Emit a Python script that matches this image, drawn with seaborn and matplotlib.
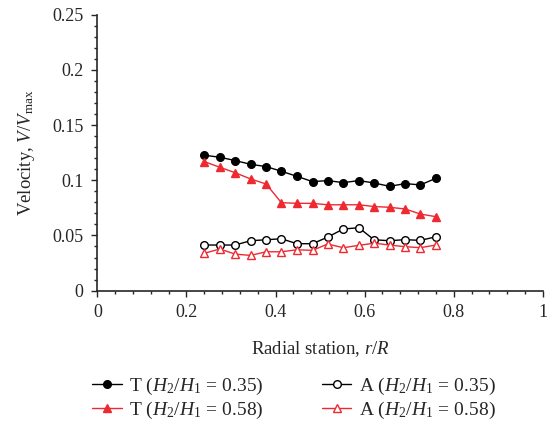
import matplotlib
matplotlib.use("Agg")
import matplotlib.pyplot as plt
import pandas as pd
import seaborn as sns
from matplotlib.ticker import MultipleLocator, FuncFormatter

# radial stations r/R
r_over_R = [0.24, 0.275, 0.309, 0.344, 0.379, 0.413, 0.448, 0.483,
            0.517, 0.552, 0.587, 0.621, 0.656, 0.691, 0.725, 0.76]

t_035 = [0.1227, 0.1209, 0.1179, 0.1145, 0.1124, 0.1082, 0.1036, 0.0988,
         0.0997, 0.0979, 0.0997, 0.0976, 0.0945, 0.0970, 0.0958, 0.1018]
t_058 = [0.1169, 0.1118, 0.1069, 0.1012, 0.0966, 0.0797, 0.0791, 0.0791,
         0.0778, 0.0778, 0.0778, 0.0762, 0.0755, 0.0740, 0.0694, 0.0670]
a_035 = [0.0413, 0.0413, 0.0413, 0.0452, 0.0461, 0.0470, 0.0425, 0.0425,
         0.0485, 0.0558, 0.0570, 0.0461, 0.0452, 0.0462, 0.0455, 0.0488]
a_058 = [0.0338, 0.0377, 0.0331, 0.0319, 0.0352, 0.0352, 0.0370, 0.0365,
         0.0422, 0.0389, 0.0410, 0.0430, 0.0413, 0.0398, 0.0389, 0.0413]

labels = [r"T $(H_2/H_1\,=\,0.35)$", r"T $(H_2/H_1\,=\,0.58)$",
          r"A $(H_2/H_1\,=\,0.35)$", r"A $(H_2/H_1\,=\,0.58)$"]

sns.set_style("ticks")
plt.rcParams["font.family"] = ["Liberation Serif", "DejaVu Serif"]
plt.rcParams["mathtext.fontset"] = "custom"
plt.rcParams["mathtext.rm"] = "Liberation Serif"
plt.rcParams["mathtext.it"] = "Liberation Serif:italic"

red = "#ee2a30"
styles = [
    (t_035, "o", "black", "black"),
    (t_058, "^", red, red),
    (a_035, "o", "black", "white"),
    (a_058, "^", red, "white"),
]

fig = plt.figure(figsize=(5.5, 4.23), dpi=100)
ax = fig.add_axes([0.177, 0.313, 0.810, 0.652])

for (vals, mk, col, face), lab in zip(styles, labels):
    df = pd.DataFrame({"r": r_over_R, "v": vals})
    sns.lineplot(data=df, x="r", y="v", ax=ax, color=col, marker=mk,
                 markersize=6 if mk == "^" else 5.5, markerfacecolor=face,
                 markeredgecolor=col, markeredgewidth=1.0, linewidth=1.0,
                 label=lab)

ax.set_xlim(0, 1)
ax.set_ylim(0, 0.25)
ax.xaxis.set_major_locator(MultipleLocator(0.2))
ax.xaxis.set_minor_locator(MultipleLocator(0.04))
ax.yaxis.set_major_locator(MultipleLocator(0.05))
ax.yaxis.set_minor_locator(MultipleLocator(0.01))
fmt = FuncFormatter(lambda v, pos: f"{round(v, 3):g}")
ax.xaxis.set_major_formatter(fmt)
ax.yaxis.set_major_formatter(fmt)
ax.tick_params(which="major", direction="out", length=4, width=1,
               labelsize=13, pad=6)
ax.tick_params(which="minor", direction="out", length=2.5, width=1)
for s in ["left", "bottom"]:
    ax.spines[s].set_linewidth(1.2)
sns.despine(ax=ax)

ax.set_xlabel(r"Radial station, $r/R$", fontsize=13.5, labelpad=13)
ax.set_ylabel(r"Velocity, $V/V_{\mathrm{max}}$", fontsize=13.5, labelpad=11)

ax.legend(loc="upper center", bbox_to_anchor=(0.535, 0.13),
          bbox_transform=fig.transFigure, ncol=2, frameon=False,
          fontsize=14, handlelength=1.5, columnspacing=3.0,
          handletextpad=0.4, labelspacing=0.15, borderaxespad=0)

fig.savefig("out.png", dpi=100)
